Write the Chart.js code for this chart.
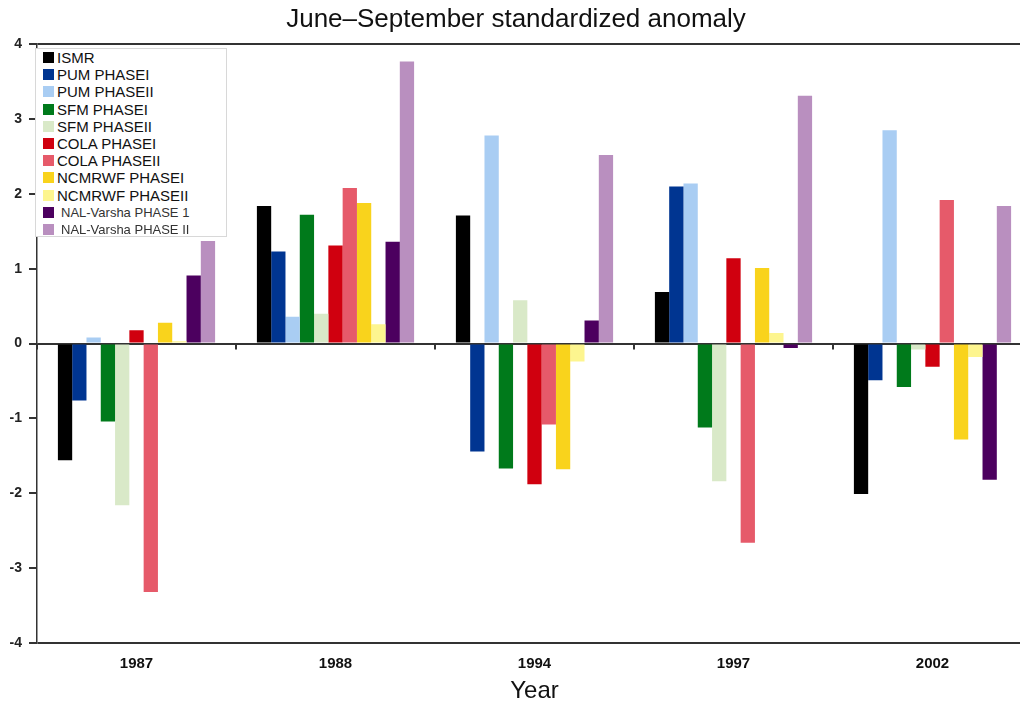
<!DOCTYPE html>
<html>
<head>
<meta charset="utf-8">
<script src="https://cdn.jsdelivr.net/npm/chart.js@4.4.1/dist/chart.umd.min.js"></script>
<style>
  html, body { margin: 0; padding: 0; background: #fff; overflow: hidden; }
  #wrap { position: relative; width: 1032px; height: 706px; }
  #legend {
    position: absolute; left: 35px; top: 48px; width: 192px; height: 189px;
    background: #fff; border: 1px solid #d8d8d8; box-sizing: border-box;
    font-family: "Liberation Sans", Arial, sans-serif;
  }
  #legend .item { position: relative; height: 17.2px; line-height: 17.2px; font-size: 15px; color: #111; }
  #legend .item .sw { position: absolute; left: 7px; top: 3px; width: 11px; height: 11px; }
  #legend .item .tx { position: absolute; left: 21px; top: 0; white-space: nowrap; }
  #legend .item.small { font-size: 13px; color: #333; }
  #legend .item.small .tx { left: 25px; }
</style>
</head>
<body>
<div id="wrap">
  <canvas id="anomChart" width="1032" height="706"></canvas>
  <div id="legend"></div>
</div>
<script>
var years = ["1987", "1988", "1994", "1997", "2002"];

var ismr        = [-1.56, 1.84, 1.71, 0.69, -2.01];
var pumPhase1   = [-0.76, 1.23, -1.44, 2.10, -0.49];
var pumPhase2   = [0.08, 0.36, 2.78, 2.14, 2.85];
var sfmPhase1   = [-1.04, 1.72, -1.67, -1.12, -0.58];
var sfmPhase2   = [-2.16, 0.40, 0.58, -1.84, -0.08];
var colaPhase1  = [0.18, 1.31, -1.88, 1.14, -0.31];
var colaPhase2  = [-3.32, 2.08, -1.08, -2.66, 1.92];
var ncmrwf1     = [0.28, 1.88, -1.68, 1.01, -1.28];
var ncmrwf2     = [0.03, 0.26, -0.24, 0.14, -0.18];
var nalPhase1   = [0.91, 1.36, 0.31, -0.06, -1.82];
var nalPhase2   = [1.37, 3.77, 2.52, 3.31, 1.84];

var seriesNames = [
  "ISMR", "PUM PHASEI", "PUM PHASEII", "SFM PHASEI", "SFM PHASEII",
  "COLA PHASEI", "COLA PHASEII", "NCMRWF PHASEI", "NCMRWF PHASEII",
  "NAL-Varsha PHASE 1", "NAL-Varsha PHASE II"
];
var seriesData = [
  ismr, pumPhase1, pumPhase2, sfmPhase1, sfmPhase2,
  colaPhase1, colaPhase2, ncmrwf1, ncmrwf2, nalPhase1, nalPhase2
];
var seriesColors = [
  "#000000", "#003591", "#a9cdf3", "#007a1b", "#d9e9c8",
  "#d0000f", "#e65a6a", "#f9d31c", "#fdf58f", "#4c005f", "#b98fbf"
];
var yTicks = [-4, -3, -2, -1, 0, 1, 2, 3, 4];

var datasets = seriesNames.map(function (name, i) {
  return {
    label: name,
    data: seriesData[i],
    backgroundColor: seriesColors[i],
    borderWidth: 0,
    barPercentage: 1.0,
    categoryPercentage: 0.79
  };
});

// small tick marks on the zero line at the category boundaries
var zeroTicks = {
  id: "zeroTicks",
  afterDatasetsDraw: function (chart) {
    var x = chart.scales.x, y = chart.scales.y, c = chart.ctx;
    var step = x.getPixelForTick(1) - x.getPixelForTick(0);
    var y0 = y.getPixelForValue(0);
    c.save();
    c.strokeStyle = "#333";
    c.lineWidth = 2;
    for (var i = 0; i <= years.length; i++) {
      var px = x.getPixelForTick(0) - step / 2 + i * step;
      c.beginPath();
      c.moveTo(px, y0);
      c.lineTo(px, y0 + 6);
      c.stroke();
    }
    c.restore();
  }
};

var ctx = document.getElementById("anomChart").getContext("2d");
new Chart(ctx, {
  type: "bar",
  data: { labels: years, datasets: datasets },
  plugins: [zeroTicks],
  options: {
    responsive: false,
    animation: false,
    layout: { padding: 0 },
    plugins: {
      legend: { display: false },
      tooltip: { enabled: false },
      title: {
        display: true,
        text: "June\u2013September standardized anomaly",
        color: "#111",
        font: { family: "Liberation Sans", size: 26, weight: "normal" },
        padding: { top: 4, bottom: 9 }
      }
    },
    scales: {
      x: {
        afterFit: function (s) { s.height = 63; },
        grid: { display: false, drawTicks: false, tickLength: 0 },
        border: { display: false },
        ticks: {
          color: "#111",
          padding: 12,
          font: { family: "'Liberation Sans Narrow', 'Liberation Sans'", size: 15, weight: "bold" }
        },
        title: {
          display: true,
          text: "Year",
          color: "#111",
          font: { family: "Liberation Sans", size: 24 },
          padding: { top: 0, bottom: 0 }
        }
      },
      y: {
        min: -4,
        max: 4,
        afterBuildTicks: function (s) {
          s.ticks = yTicks.map(function (v) { return { value: v }; });
        },
        afterFit: function (s) { s.width = 37; },
        border: { display: true, color: "#333", width: 1.5 },
        grid: {
          color: function (c) {
            var v = c.tick ? c.tick.value : null;
            return (v === 0 || v === 4 || v === -4) ? "#333" : "rgba(0,0,0,0)";
          },
          lineWidth: 2,
          tickColor: "#333",
          tickLength: 8,
          drawTicks: true
        },
        ticks: {
          color: "#222",
          padding: 7,
          font: { family: "Liberation Sans", size: 14, weight: "bold" }
        }
      }
    }
  }
});

// legend overlay built from the same series arrays
var legendEl = document.getElementById("legend");
seriesNames.forEach(function (name, i) {
  var item = document.createElement("div");
  item.className = "item" + (name.indexOf("NAL") === 0 ? " small" : "");
  var sw = document.createElement("span");
  sw.className = "sw";
  sw.style.background = seriesColors[i];
  var tx = document.createElement("span");
  tx.className = "tx";
  tx.textContent = name;
  item.appendChild(sw);
  item.appendChild(tx);
  legendEl.appendChild(item);
});
</script>
</body>
</html>
